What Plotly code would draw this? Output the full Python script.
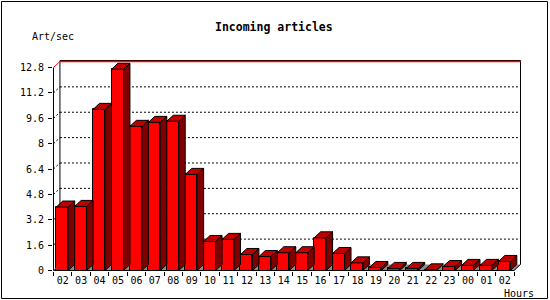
import plotly.graph_objects as go

# ---------------- data ----------------
hours = ["02", "03", "04", "05", "06", "07", "08", "09", "10", "11", "12", "13",
         "14", "15", "16", "17", "18", "19", "20", "21", "22", "23", "00", "01", "02"]
art_per_sec = [4.00, 4.04, 10.16, 12.69, 9.09, 9.34, 9.41, 6.06, 1.83, 1.96, 1.01, 0.88,
               1.12, 1.12, 2.06, 1.07, 0.48, 0.19, 0.13, 0.13, 0.04, 0.25, 0.32, 0.32, 0.57]
y_ticks = [0, 1.6, 3.2, 4.8, 6.4, 8, 9.6, 11.2, 12.8]
y_tick_labels = ["0", "1.6", "3.2", "4.8", "6.4", "8", "9.6", "11.2", "12.8"]
title_text = "Incoming articles"
y_title = "Art/sec"
x_title = "Hours"

# ---------------- layout geometry / style ----------------
W, H = 550, 300
ML, MR, MT, MB = 53, 29, 56, 29
PW, PH = W - ML - MR, H - MT - MB
FONT = "DejaVu Sans Mono"
RED, TOP, SIDE, FLOOR = "#ff0000", "#c00000", "#800000", "#8c8c8c"

n = len(hours)
DX = 0.35          # 3D depth in category units
DY = 0.38          # 3D depth in value units
top_v = y_ticks[-1]
# pixel-aligned axis ranges (lines land on pixel centres)
KX = (PW - 1) / (n + DX)
XMIN, XMAX = -0.5 / KX, n + DX + 0.5 / KX
KY = 209 / (top_v + DY)            # px per value unit
YMIN = -0.5 / KY
YMAX = YMIN + PH / KY
FRAME_TOP = top_v + DY + 1 / KY
BAR_L, BAR_W = 0.15, 0.65


def px_x(px):
    return (px - ML) / PW


def px_y(py):
    return 1 - (py - MT) / PH


fig = go.Figure()

# front faces
fig.add_trace(go.Bar(
    x=[i + BAR_L + BAR_W / 2 for i in range(n)], y=art_per_sec, width=BAR_W,
    marker=dict(color=RED, line=dict(color="black", width=1)),
    hoverinfo="skip", showlegend=False))

# top faces and side faces
tx, ty, sx, sy = [], [], [], []
for i, v in enumerate(art_per_sec):
    x0, x1 = i + BAR_L, i + BAR_L + BAR_W
    tx += [x0, x1, x1 + DX, x0 + DX, x0, None]
    ty += [v, v, v + DY, v + DY, v, None]
    sx += [x1, x1, x1 + DX, x1 + DX, x1, None]
    sy += [0, v, v + DY, DY, 0, None]
fig.add_trace(go.Scatter(x=sx, y=sy, mode="lines", fill="toself", fillcolor=SIDE,
                         line=dict(color="black", width=1), hoverinfo="skip",
                         showlegend=False))
fig.add_trace(go.Scatter(x=tx, y=ty, mode="lines", fill="toself", fillcolor=TOP,
                         line=dict(color="black", width=1), hoverinfo="skip",
                         showlegend=False))

shapes = []
# floor
shapes.append(dict(type="path", xref="x", yref="y", layer="below",
                   path=f"M 0,0 L {n},0 L {n + DX},{DY} L {DX},{DY} Z",
                   fillcolor=FLOOR, line=dict(width=0)))
# grid lines on back wall + diagonal connectors
for v in y_ticks[1:-1]:
    shapes.append(dict(type="line", xref="x", yref="y", layer="below",
                       x0=DX, x1=n + DX, y0=v + DY, y1=v + DY,
                       line=dict(color="black", width=1, dash="2px,2px")))
    shapes.append(dict(type="line", xref="x", yref="y", layer="below",
                       x0=0, x1=DX, y0=v, y1=v + DY,
                       line=dict(color="black", width=1, dash="2px,2px")))
# back wall frame (top edge drawn first, underneath the red max line)
shapes.append(dict(type="line", xref="x", yref="y", x0=DX, x1=n + DX, y0=FRAME_TOP,
                   y1=FRAME_TOP, line=dict(color="black", width=1), layer="below"))
shapes.append(dict(type="line", xref="x", yref="y", x0=DX, x1=DX, y0=DY, y1=FRAME_TOP,
                   line=dict(color="black", width=1), layer="below"))
shapes.append(dict(type="line", xref="x", yref="y", x0=n + DX, x1=n + DX, y0=DY,
                   y1=FRAME_TOP, line=dict(color="black", width=1)))
# top (max) line in red
shapes.append(dict(type="line", xref="x", yref="y", x0=0, x1=DX, y0=top_v, y1=top_v + DY,
                   line=dict(color=RED, width=1)))
shapes.append(dict(type="line", xref="x", yref="y", x0=DX, x1=n + DX, y0=top_v + DY,
                   y1=top_v + DY, line=dict(color=RED, width=1.4)))
# front axes
shapes.append(dict(type="line", xref="x", yref="y", x0=0, x1=0, y0=0, y1=top_v,
                   line=dict(color="black", width=1)))
shapes.append(dict(type="line", xref="x", yref="y", x0=0, x1=n, y0=0, y1=0,
                   line=dict(color="black", width=1)))
shapes.append(dict(type="line", xref="x", yref="y", x0=n, x1=n + DX, y0=0, y1=DY,
                   line=dict(color="black", width=1)))
shapes.append(dict(type="line", xref="x", yref="y", x0=0, x1=DX, y0=0, y1=DY,
                   line=dict(color="#606060", width=1)))
# outer border
shapes.append(dict(type="rect", xref="paper", yref="paper",
                   x0=px_x(1.5), x1=px_x(547.5), y0=px_y(298.5), y1=px_y(1.5),
                   line=dict(color="black", width=1)))

annotations = [
    dict(text=f"<b>{title_text}</b>", xref="paper", yref="paper", x=px_x(274), y=px_y(27),
         xanchor="center", yanchor="middle", showarrow=False,
         font=dict(family=FONT, size=11.5, color="black")),
    dict(text=y_title, xref="paper", yref="paper", x=px_x(30), y=px_y(37),
         xanchor="left", yanchor="middle", showarrow=False,
         font=dict(family=FONT, size=10, color="black")),
    dict(text=x_title, xref="paper", yref="paper", x=px_x(519), y=px_y(293),
         xanchor="center", yanchor="middle", showarrow=False,
         font=dict(family=FONT, size=10, color="black")),
]

fig.update_layout(
    width=W, height=H, margin=dict(l=ML, r=MR, t=MT, b=MB, pad=0),
    paper_bgcolor="white", plot_bgcolor="white",
    font=dict(family=FONT, size=10, color="black"),
    shapes=shapes, annotations=annotations, bargap=0, showlegend=False,
    xaxis=dict(range=[XMIN, XMAX], showgrid=False, zeroline=False, showline=False,
               tickmode="array", tickvals=[i + 0.5 for i in range(n)], ticktext=hours,
               ticks="", ticklabelstandoff=2,
               tickfont=dict(family=FONT, size=10, color="black"),
               minor=dict(tickmode="array", tickvals=list(range(n + 1)), ticks="outside",
                          ticklen=4, tickcolor="black", tickwidth=1, showgrid=False),
               fixedrange=True),
    yaxis=dict(range=[YMIN, YMAX], showgrid=False, zeroline=False, showline=False,
               tickmode="array", tickvals=y_ticks, ticktext=y_tick_labels,
               ticks="outside", ticklen=4, tickcolor="black", tickwidth=1,
               ticklabelstandoff=2,
               tickfont=dict(family=FONT, size=10, color="black"), fixedrange=True),
)

fig.write_html("out.html")
